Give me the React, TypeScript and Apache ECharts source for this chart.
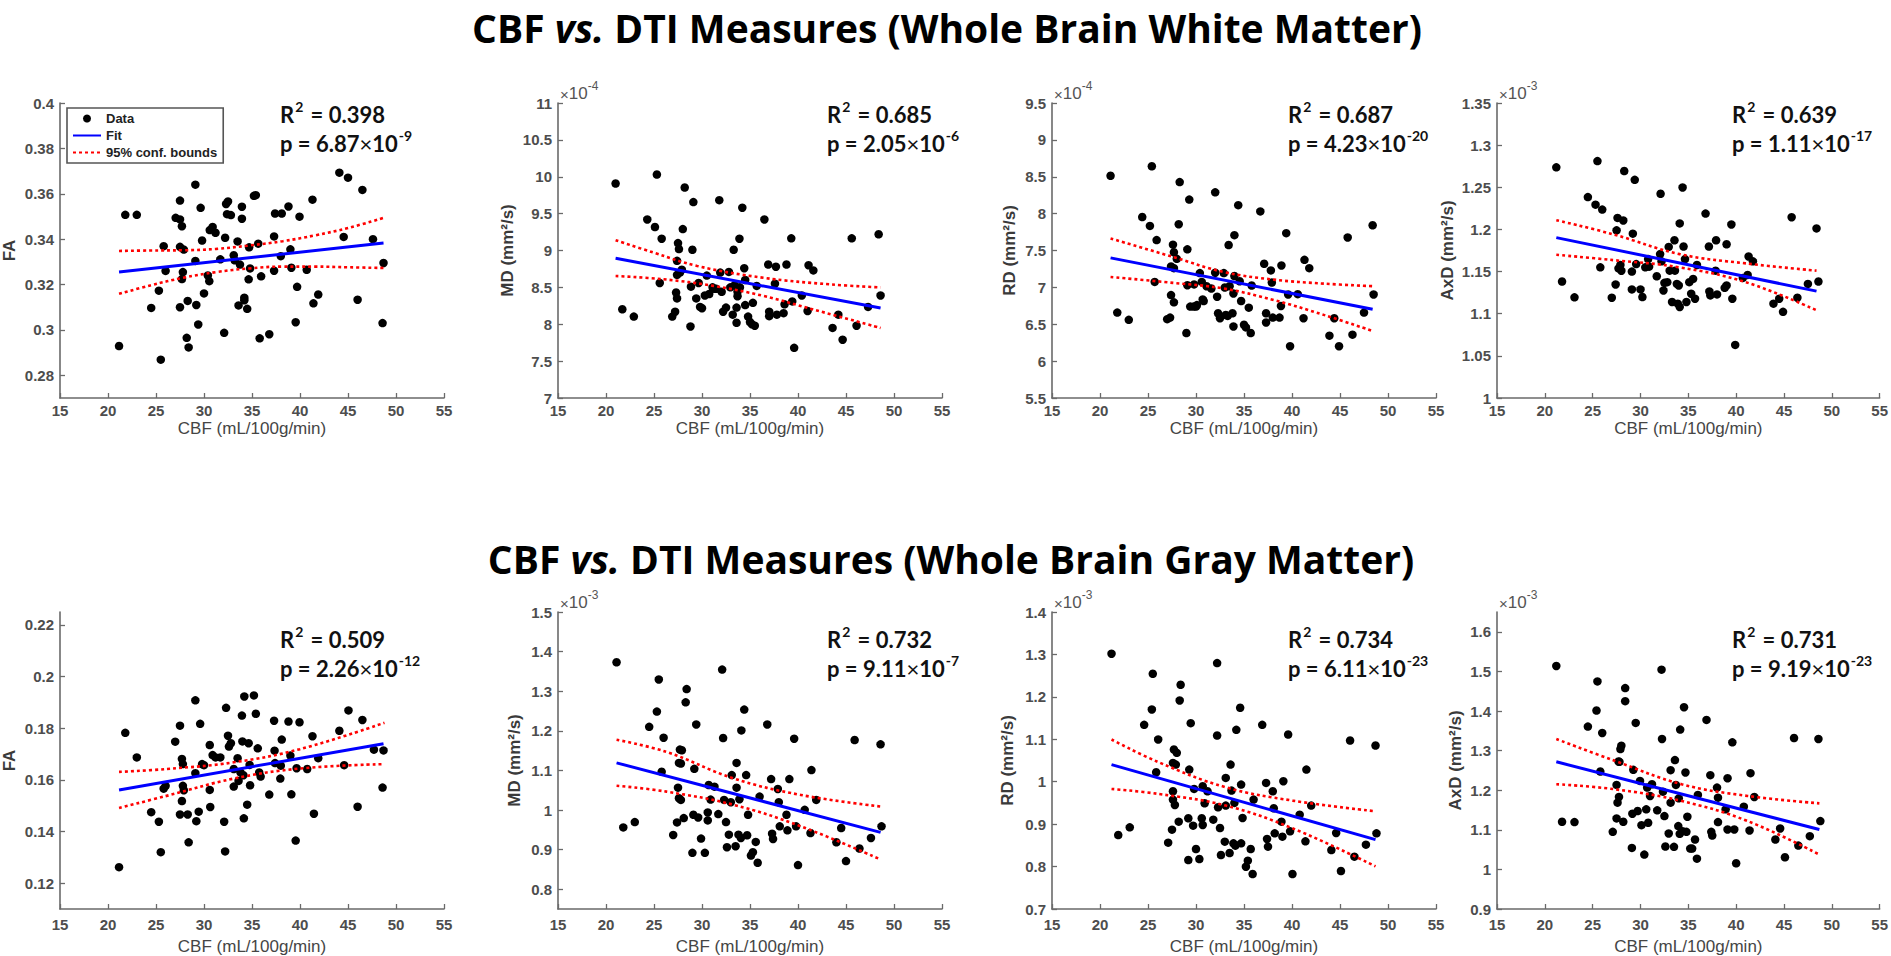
import React, { useEffect, useRef } from 'react';
import * as echarts from 'echarts';

// ---------------- DATA ----------------
const cbfRange = [15, 55];
const cbfInterval = 5;

// Whole brain white matter
const wmFaPoints = [
  [21.15, 0.2929], [21.8, 0.3507], [23.0, 0.3507], [24.5, 0.3097], [25.3, 0.3173], [25.5, 0.2869], [25.8, 0.3369], [26.0, 0.326],
  [27.05, 0.3494], [27.5, 0.357], [27.5, 0.3487], [27.7, 0.3457], [27.5, 0.3366], [27.9, 0.3354], [27.8, 0.3255], [27.7, 0.3224],
  [27.5, 0.31], [28.2, 0.2965], [28.4, 0.2923], [28.3, 0.3128], [29.1, 0.364], [29.1, 0.3304], [29.2, 0.311], [29.4, 0.3024],
  [29.65, 0.3538], [29.8, 0.3394], [30.0, 0.3161], [30.4, 0.324], [30.55, 0.3215], [30.6, 0.344], [30.9, 0.3454], [31.2, 0.3428],
  [31.7, 0.3311], [32.1, 0.2987], [32.2, 0.3406], [32.3, 0.3555], [32.5, 0.3566], [32.4, 0.351], [32.8, 0.3506], [33.1, 0.3329],
  [33.2, 0.3307], [33.5, 0.339], [33.6, 0.3108], [33.75, 0.3288], [33.95, 0.3543], [33.95, 0.349], [34.2, 0.3142], [34.2, 0.3131],
  [34.5, 0.3093], [34.65, 0.3223], [34.7, 0.3364], [34.8, 0.3271], [35.2, 0.3591], [35.4, 0.3594], [35.65, 0.338], [35.8, 0.2963],
  [35.95, 0.3236], [36.8, 0.2981], [37.3, 0.3261], [37.3, 0.3412], [37.4, 0.3513], [38.1, 0.3513], [38.0, 0.3325], [38.8, 0.3544],
  [39.0, 0.3355], [39.1, 0.3274], [39.55, 0.3034], [39.7, 0.319], [39.95, 0.3499], [40.7, 0.3265], [41.3, 0.3574], [41.4, 0.3117],
  [41.9, 0.3156], [44.1, 0.3693], [45.0, 0.3671], [44.55, 0.341], [46.0, 0.3133], [46.5, 0.3617], [47.6, 0.34], [48.6, 0.303],
  [48.7, 0.3295]
];
const wmFaFit = [[21.15, 0.3255], [48.7, 0.3383]];
const wmFaUpper = [[21.15, 0.3348], [24.4, 0.335], [27.85, 0.3351], [31.3, 0.3357], [34.7, 0.3372], [38.2, 0.3391], [41.6, 0.3417], [45.1, 0.345], [48.7, 0.3494]];
const wmFaLower = [[21.15, 0.3159], [24.4, 0.3196], [27.85, 0.323], [31.3, 0.3255], [34.7, 0.3271], [38.2, 0.3279], [41.6, 0.3279], [45.1, 0.3276], [48.7, 0.3273]];
const wmFaTicks = [0.28, 0.3, 0.32, 0.34, 0.36, 0.38, 0.4];

const wmMdPoints = [
  [21.0, 9.908], [21.7, 8.203], [22.9, 8.104], [24.3, 9.421], [25.1, 9.318], [25.3, 10.03], [25.6, 8.56], [25.8, 9.16],
  [26.9, 8.104], [27.2, 8.17], [27.3, 8.43], [27.4, 8.35], [27.4, 8.86], [27.5, 9.1], [27.6, 9.02], [27.4, 8.67],
  [27.7, 8.7], [27.9, 8.74], [28.0, 9.29], [28.2, 9.854], [28.8, 7.97], [28.85, 8.51], [29.0, 9.01], [29.1, 9.656],
  [29.4, 8.35], [29.65, 8.56], [29.8, 8.235], [30.0, 8.217], [30.3, 8.39], [30.5, 8.66], [30.75, 8.41], [31.1, 8.5],
  [31.3, 8.48], [31.5, 8.48], [31.8, 9.683], [31.9, 8.7], [32.05, 8.44], [32.2, 8.17], [32.5, 8.226], [32.8, 8.71],
  [32.95, 8.5], [33.2, 8.13], [33.3, 9.01], [33.4, 8.53], [33.6, 8.226], [33.6, 8.02], [33.7, 8.38], [33.7, 8.44],
  [33.9, 9.16], [33.95, 8.5], [34.2, 9.58], [34.4, 8.76], [34.5, 8.6], [34.5, 8.26], [34.8, 8.104], [35.0, 8.03],
  [35.2, 8.0], [35.3, 8.29], [35.5, 7.98], [35.7, 8.52], [36.5, 9.421], [36.9, 8.81], [37.0, 8.17], [37.0, 8.11],
  [37.6, 8.55], [37.7, 8.78], [37.8, 8.13], [38.5, 8.15], [38.6, 8.27], [38.8, 8.81], [39.3, 9.165], [39.4, 8.31],
  [39.6, 7.68], [40.4, 8.39], [41.0, 8.18], [41.1, 8.8], [41.6, 8.73], [43.6, 7.95], [44.2, 8.13], [44.65, 7.79],
  [45.6, 9.165], [46.1, 7.98], [47.3, 8.235], [48.4, 9.22], [48.6, 8.39]
];
const wmMdFit = [[21.0, 8.894], [48.6, 8.22]];
const wmMdUpper = [[21.0, 9.14], [25.0, 8.97], [29.5, 8.79], [36.4, 8.63], [43.4, 8.54], [48.6, 8.5]];
const wmMdLower = [[21.0, 8.654], [26.0, 8.61], [31.2, 8.52], [36.4, 8.384], [41.6, 8.2], [48.6, 7.95]];
const wmMdTicks = [7, 7.5, 8, 8.5, 9, 9.5, 10, 10.5, 11];

const wmRdPoints = [
  [21.1, 8.513], [21.8, 6.658], [23.0, 6.56], [24.4, 7.954], [25.2, 7.833], [25.4, 8.642], [25.7, 7.074], [25.9, 7.641],
  [27.0, 6.569], [27.3, 6.59], [27.4, 6.895], [27.7, 6.797], [27.6, 7.579], [27.7, 7.476], [27.4, 7.284], [27.7, 7.261],
  [28.0, 7.387], [28.2, 7.856], [28.3, 8.428], [29.0, 6.381], [29.1, 7.516], [29.1, 7.029], [29.3, 8.19], [29.4, 6.739],
  [29.75, 6.739], [30.0, 6.739], [30.1, 6.76], [29.8, 7.04], [30.4, 7.194], [30.6, 7.074], [30.7, 6.837], [30.8, 6.815],
  [31.1, 7.016], [31.6, 6.984], [32.0, 8.289], [32.0, 7.199], [32.2, 6.873], [32.3, 6.649], [32.5, 6.582], [32.9, 7.194],
  [33.0, 6.998], [33.1, 6.627], [33.3, 6.613], [33.4, 7.574], [33.5, 7.016], [33.8, 6.649], [33.9, 6.47], [33.9, 6.917],
  [34.0, 7.154], [34.0, 7.708], [34.4, 8.115], [34.55, 7.083], [34.7, 6.815], [35.0, 6.493], [35.2, 6.457], [35.5, 6.725],
  [35.7, 6.381], [35.8, 7.025], [36.7, 8.03], [37.1, 7.32], [37.3, 6.649], [37.3, 6.524], [37.8, 7.23], [37.9, 7.065],
  [38.0, 6.59], [38.7, 6.59], [38.85, 6.748], [38.9, 7.297], [39.4, 7.735], [39.6, 6.904], [39.8, 6.202], [40.6, 6.908],
  [41.2, 6.582], [41.3, 7.373], [41.8, 7.261], [43.9, 6.345], [44.4, 6.582], [44.9, 6.202], [45.8, 7.677], [46.3, 6.359],
  [47.5, 6.658], [48.4, 7.842], [48.5, 6.904]
];
const wmRdFit = [[21.1, 7.4], [48.4, 6.703]];
const wmRdUpper = [[21.1, 7.664], [27.7, 7.409], [32.9, 7.208], [38.1, 7.105], [43.3, 7.051], [48.4, 7.016]];
const wmRdLower = [[21.1, 7.141], [27.7, 7.06], [32.9, 6.984], [38.1, 6.828], [43.3, 6.627], [48.4, 6.408]];
const wmRdTicks = [5.5, 6, 6.5, 7, 7.5, 8, 8.5, 9, 9.5];

const wmAxdPoints = [
  [21.2, 1.2737], [21.8, 1.1382], [23.1, 1.1194], [24.5, 1.2384], [25.3, 1.2294], [25.5, 1.2811], [25.8, 1.155], [26.0, 1.2235],
  [27.0, 1.119], [27.4, 1.1347], [27.5, 1.1989], [27.6, 1.2137], [27.7, 1.1538], [28.0, 1.151], [27.9, 1.1578], [28.2, 1.2106],
  [28.3, 1.2693], [29.1, 1.1288], [29.2, 1.195], [29.1, 1.15], [29.4, 1.2588], [29.55, 1.1589], [30.0, 1.1288], [30.2, 1.1198],
  [30.5, 1.155], [30.8, 1.1648], [30.9, 1.1558], [31.7, 1.1444], [32.1, 1.2423], [32.05, 1.1707], [32.2, 1.1621], [32.4, 1.1276],
  [32.5, 1.1366], [32.8, 1.1374], [32.95, 1.1793], [33.05, 1.1511], [33.3, 1.1139], [33.6, 1.1511], [33.55, 1.1871], [33.8, 1.1354],
  [33.9, 1.1119], [34.0, 1.1335], [34.1, 1.2071], [34.1, 1.108], [34.4, 1.2498], [34.5, 1.1797], [34.65, 1.1648], [34.8, 1.1139],
  [35.1, 1.1374], [35.3, 1.1237], [35.5, 1.1413], [35.7, 1.1178], [35.9, 1.1578], [36.8, 1.2188], [37.15, 1.1797], [37.2, 1.1264],
  [37.3, 1.1217], [37.9, 1.1871], [37.85, 1.1511], [38.0, 1.1229], [38.8, 1.1307], [39.0, 1.1824], [39.0, 1.1335], [39.5, 1.2059],
  [39.6, 1.1178], [39.9, 1.063], [40.7, 1.1425], [41.2, 1.146], [41.3, 1.1679], [41.75, 1.1621], [43.9, 1.1119], [44.5, 1.1178],
  [44.9, 1.1022], [45.8, 1.2145], [46.4, 1.119], [47.5, 1.1354], [48.4, 1.2012], [48.6, 1.1382]
];
const wmAxdFit = [[21.2, 1.1903], [48.4, 1.1268]];
const wmAxdUpper = [[21.2, 1.211], [27.15, 1.1942], [34.1, 1.1707], [41.0, 1.1597], [48.4, 1.1511]];
const wmAxdLower = [[21.2, 1.1699], [27.15, 1.1636], [34.1, 1.155], [41.0, 1.1374], [48.4, 1.1041]];
const wmAxdTicks = [1, 1.05, 1.1, 1.15, 1.2, 1.25, 1.3, 1.35];

// Whole brain gray matter
const gmFaPoints = [
  [21.15, 0.1262], [21.8, 0.1782], [23.0, 0.1687], [24.5, 0.1475], [25.3, 0.1438], [25.5, 0.132], [25.8, 0.1566], [26.0, 0.1577],
  [27.0, 0.1748], [27.5, 0.181], [27.5, 0.1466], [27.7, 0.1518], [27.7, 0.1681], [27.8, 0.1661], [27.8, 0.1577], [27.9, 0.156],
  [28.3, 0.1466], [28.4, 0.1358], [29.1, 0.1908], [29.1, 0.1626], [29.2, 0.144], [29.45, 0.1477], [29.6, 0.1817], [29.8, 0.1661],
  [30.0, 0.1657], [30.6, 0.1735], [30.6, 0.1561], [30.65, 0.1495], [30.9, 0.1696], [31.2, 0.1687], [31.7, 0.1687], [32.1, 0.1438],
  [32.2, 0.1323], [32.3, 0.1879], [32.5, 0.1771], [32.6, 0.1729], [32.8, 0.1742], [33.1, 0.1574], [33.1, 0.1642], [33.5, 0.1684],
  [33.6, 0.1596], [33.8, 0.1629], [33.95, 0.1849], [34.0, 0.1749], [34.1, 0.1618], [34.15, 0.1451], [34.2, 0.1923], [34.5, 0.1504],
  [34.65, 0.1742], [34.75, 0.1658], [34.8, 0.1579], [35.2, 0.1927], [35.4, 0.1856], [35.6, 0.1722], [35.75, 0.1629], [35.9, 0.1613],
  [36.8, 0.1543], [37.3, 0.1829], [37.35, 0.1713], [37.4, 0.1665], [37.95, 0.1605], [38.0, 0.1655], [38.1, 0.1756], [38.8, 0.1826],
  [39.0, 0.1694], [39.1, 0.1544], [39.55, 0.1365], [39.65, 0.1645], [39.95, 0.1823], [40.75, 0.1642], [41.3, 0.1769], [41.45, 0.1469],
  [41.9, 0.1684], [44.1, 0.179], [44.6, 0.1657], [45.05, 0.1869], [46.0, 0.1496], [46.5, 0.1832], [47.7, 0.1717], [48.6, 0.157],
  [48.7, 0.1714]
];
const gmFaFit = [[21.15, 0.1561], [48.7, 0.174]];
const gmFaUpper = [[21.15, 0.1631], [26.1, 0.1642], [33.1, 0.1668], [40.0, 0.1719], [48.8, 0.1821]];
const gmFaLower = [[21.15, 0.1491], [26.1, 0.1538], [33.1, 0.1605], [40.0, 0.1644], [48.8, 0.1661]];
const gmFaTicks = [0.12, 0.14, 0.16, 0.18, 0.2, 0.22];

const gmMdPoints = [
  [21.1, 1.373], [21.8, 0.956], [23.0, 0.9695], [24.5, 1.21], [25.3, 1.2485], [25.5, 1.3296], [25.8, 1.0965], [26.0, 1.1825],
  [27.0, 0.9369], [27.4, 0.9687], [27.5, 1.0564], [27.6, 1.0297], [27.8, 1.0255], [27.6, 1.119], [27.8, 1.1174], [27.7, 1.1525],
  [27.9, 1.1508], [28.1, 0.9795], [28.3, 1.2719], [28.4, 1.3053], [29.0, 0.8918], [29.1, 0.9879], [29.2, 1.104], [29.4, 1.216],
  [29.6, 0.9812], [29.9, 0.9278], [30.3, 0.8918], [30.6, 0.9937], [30.6, 0.9737], [30.7, 1.0631], [30.9, 1.0263], [31.3, 1.0589],
  [31.7, 0.9896], [32.1, 1.3546], [32.2, 1.1817], [32.3, 1.0255], [32.5, 0.9695], [32.6, 0.906], [32.8, 0.9378], [33.0, 1.0196],
  [33.1, 1.0881], [33.5, 0.9085], [33.6, 1.119], [33.6, 1.0564], [33.8, 0.9378], [33.9, 1.0272], [34.05, 0.9294], [34.1, 1.2009],
  [34.4, 1.2536], [34.6, 1.0881], [34.7, 0.9361], [34.8, 0.9879], [35.1, 0.8851], [35.3, 0.8935], [35.6, 0.9194], [35.8, 0.8667],
  [36.0, 1.0338], [36.8, 1.216], [37.2, 1.0781], [37.3, 0.9403], [37.4, 0.9269], [37.9, 1.0531], [38.0, 1.0196], [38.1, 0.9587],
  [38.8, 0.9879], [38.9, 0.9486], [39.1, 1.0781], [39.6, 1.18], [39.8, 0.9587], [40.0, 0.8609], [40.7, 1.0004], [41.3, 0.9419],
  [41.4, 1.1007], [41.9, 1.0255], [44.0, 0.9185], [44.5, 0.9545], [45.0, 0.8709], [45.9, 1.1767], [46.4, 0.9027], [47.6, 0.9294],
  [48.6, 1.1658], [48.7, 0.9587]
];
const gmMdFit = [[21.1, 1.119], [48.6, 0.9436]];
const gmMdUpper = [[21.1, 1.1775], [26.3, 1.1466], [33.3, 1.0798], [40.3, 1.038], [48.6, 1.0088]];
const gmMdLower = [[21.1, 1.0614], [26.3, 1.0464], [33.3, 1.013], [40.3, 0.9587], [48.6, 0.8751]];
const gmMdTicks = [0.8, 0.9, 1, 1.1, 1.2, 1.3, 1.4, 1.5];

const gmRdPoints = [
  [21.2, 1.3017], [21.9, 0.8744], [23.1, 0.8925], [24.6, 1.1341], [25.4, 1.1703], [25.5, 1.2544], [25.85, 1.0223], [26.06, 1.0995],
  [27.1, 0.8563], [27.5, 0.887], [27.6, 0.9775], [27.6, 0.9578], [27.8, 0.9452], [27.6, 1.0444], [27.9, 1.0404], [27.7, 1.0758],
  [28.0, 1.068], [28.2, 0.9059], [28.4, 1.2285], [28.3, 1.1915], [29.2, 0.8154], [29.3, 1.0286], [29.2, 0.9138], [29.45, 1.138],
  [29.7, 0.8965], [29.8, 0.983], [30.0, 0.8414], [30.35, 0.8178], [30.6, 0.9138], [30.7, 0.898], [30.7, 0.9893], [30.9, 0.9492],
  [31.2, 0.9775], [31.8, 0.9106], [32.2, 1.2796], [32.2, 1.1089], [32.3, 0.9397], [32.5, 0.8909], [32.6, 0.8272], [33.0, 0.8587],
  [33.1, 1.009], [33.1, 0.9437], [33.5, 0.8319], [33.6, 1.0404], [33.7, 0.9791], [33.9, 0.8548], [34.0, 0.95], [34.1, 0.8493],
  [34.2, 1.1223], [34.6, 1.1742], [34.7, 0.9932], [34.7, 0.8548], [34.85, 0.9146], [35.2, 0.7997], [35.4, 0.8139], [35.7, 0.8414],
  [35.9, 0.7824], [36.0, 0.9578], [36.9, 1.1341], [37.3, 0.9972], [37.4, 0.865], [37.5, 0.8469], [38.0, 0.9775], [38.1, 0.9374],
  [38.2, 0.8784], [38.9, 0.9059], [39.0, 0.8705], [39.1, 1.0011], [39.6, 1.1112], [39.8, 0.8831], [40.05, 0.7824], [40.8, 0.9224],
  [41.4, 0.8595], [41.5, 1.0286], [42.0, 0.9437], [44.1, 0.839], [44.6, 0.8792], [45.1, 0.7895], [46.05, 1.0971], [46.5, 0.8233],
  [47.7, 0.8516], [48.7, 1.0853], [48.8, 0.8784]
];
const gmRdFit = [[21.2, 1.0404], [48.7, 0.8634]];
const gmRdUpper = [[21.2, 1.0995], [26.1, 1.046], [33.1, 0.9869], [40.05, 0.9555], [48.7, 0.9303]];
const gmRdLower = [[21.2, 0.983], [26.1, 0.9712], [33.1, 0.9437], [40.05, 0.8902], [48.7, 0.8005]];
const gmRdTicks = [0.7, 0.8, 0.9, 1, 1.1, 1.2, 1.3, 1.4];

const gmAxdPoints = [
  [21.2, 1.5137], [21.8, 1.1203], [23.1, 1.1195], [24.5, 1.3606], [25.4, 1.4012], [25.5, 1.4748], [26.0, 1.3445], [25.8, 1.2472],
  [27.1, 1.0949], [27.5, 1.1288], [27.5, 1.2134], [27.6, 1.1685], [27.75, 1.1829], [27.7, 1.2726], [27.9, 1.3039], [28.0, 1.3124],
  [27.8, 1.2717], [28.2, 1.1203], [28.4, 1.4249], [28.4, 1.4579], [29.1, 1.0543], [29.15, 1.1406], [29.25, 1.2514], [29.5, 1.3699],
  [29.7, 1.1474], [29.95, 1.2235], [30.1, 1.1118], [30.4, 1.0374], [30.6, 1.1516], [30.8, 1.1178], [30.7, 1.2066], [31.0, 1.1854],
  [31.2, 1.2151], [31.75, 1.1491], [32.2, 1.5044], [32.25, 1.3293], [32.35, 1.1964], [32.5, 1.1347], [32.6, 1.0577], [32.95, 1.0907],
  [33.15, 1.2506], [33.15, 1.1685], [33.5, 1.0569], [33.6, 1.276], [33.7, 1.2134], [33.95, 1.1093], [34.0, 1.1795], [34.1, 1.0898],
  [34.15, 1.353], [34.4, 1.0966], [34.55, 1.4096], [34.7, 1.2447], [34.8, 1.0949], [34.9, 1.133], [35.2, 1.0526], [35.4, 1.0526],
  [35.7, 1.0755], [35.9, 1.0272], [36.0, 1.188], [36.9, 1.3775], [37.3, 1.2379], [37.4, 1.0949], [37.5, 1.0856], [38.0, 1.2066],
  [38.1, 1.1812], [38.1, 1.1195], [38.9, 1.1516], [39.1, 1.2303], [39.1, 1.1008], [39.6, 1.3208], [39.8, 1.1008], [40.0, 1.0154],
  [40.8, 1.1584], [41.4, 1.0983], [41.5, 1.243], [41.9, 1.1829], [44.1, 1.0755], [44.6, 1.1034], [45.1, 1.0306], [46.05, 1.3318],
  [46.5, 1.0602], [47.7, 1.0839], [48.6, 1.3293], [48.8, 1.122]
];
const gmAxdFit = [[21.2, 1.2717], [48.7, 1.1008]];
const gmAxdUpper = [[21.2, 1.3293], [27.3, 1.2743], [34.3, 1.2151], [41.2, 1.1855], [48.7, 1.1668]];
const gmAxdLower = [[21.2, 1.2151], [27.3, 1.2024], [34.3, 1.1728], [41.2, 1.122], [48.7, 1.0374]];
const gmAxdTicks = [0.9, 1, 1.1, 1.2, 1.3, 1.4, 1.5, 1.6];

const yRanges = [[0.27, 0.4], [7, 11], [5.5, 9.5], [1, 1.35], [0.11, 0.225], [0.75, 1.5], [0.7, 1.4], [0.9, 1.65]];
const yNames = ['FA', 'MD (mm²/s)', 'RD (mm²/s)', 'AxD (mm²/s)', 'FA', 'MD (mm²/s)', 'RD (mm²/s)', 'AxD (mm²/s)'];
const r2Values = ['0.398', '0.685', '0.687', '0.639', '0.509', '0.732', '0.734', '0.731'];
const pMantissas = ['6.87', '2.05', '4.23', '1.11', '2.26', '9.11', '6.11', '9.19'];
const pExponents = ['-9', '-6', '-20', '-17', '-12', '-7', '-23', '-23'];
const yExponents = [null, '-4', '-4', '-3', null, '-3', '-3', '-3'];
const rowTitles = ['White Matter', 'Gray Matter'];

// ---------------- LAYOUT ----------------
const colLeft = [60, 558, 1052, 1497];
const gridW = 384;
const rowTop = [103, 612];
const rowH = [295, 297];
const statX = [280, 827, 1288, 1732];
const statY = [[112, 141], [637, 666]];
const yNameGaps = [42, 42, 34, 41, 42, 35, 36, 33];

const FONT_AX = '"Liberation Sans", Arial, sans-serif';
const FONT_TXT = 'Lato, "Open Sans", sans-serif';
const FONT_TITLE = '"Open Sans", Lato, sans-serif';

const panels = [
  { pts: wmFaPoints, fit: wmFaFit, up: wmFaUpper, lo: wmFaLower, ticks: wmFaTicks },
  { pts: wmMdPoints, fit: wmMdFit, up: wmMdUpper, lo: wmMdLower, ticks: wmMdTicks },
  { pts: wmRdPoints, fit: wmRdFit, up: wmRdUpper, lo: wmRdLower, ticks: wmRdTicks },
  { pts: wmAxdPoints, fit: wmAxdFit, up: wmAxdUpper, lo: wmAxdLower, ticks: wmAxdTicks },
  { pts: gmFaPoints, fit: gmFaFit, up: gmFaUpper, lo: gmFaLower, ticks: gmFaTicks },
  { pts: gmMdPoints, fit: gmMdFit, up: gmMdUpper, lo: gmMdLower, ticks: gmMdTicks },
  { pts: gmRdPoints, fit: gmRdFit, up: gmRdUpper, lo: gmRdLower, ticks: gmRdTicks },
  { pts: gmAxdPoints, fit: gmAxdFit, up: gmAxdUpper, lo: gmAxdLower, ticks: gmAxdTicks },
];

const fmt = (v: number) => String(parseFloat(v.toFixed(4)));
const AXIS_COLOR = '#6a6a6a';
const LABEL_COLOR = '#4d4d4d';

function buildOption() {
  const grid: any[] = [];
  const xAxis: any[] = [];
  const yAxis: any[] = [];
  const series: any[] = [];
  const graphic: any[] = [];

  panels.forEach((p, i) => {
    const row = Math.floor(i / 4);
    const col = i % 4;
    grid.push({ left: colLeft[col], top: rowTop[row], width: gridW, height: rowH[row], containLabel: false });
    xAxis.push({
      type: 'value', gridIndex: i, min: cbfRange[0], max: cbfRange[1], interval: cbfInterval,
      name: 'CBF (mL/100g/min)', nameLocation: 'middle', nameGap: row === 0 ? 22 : 29, nameMoveOverlap: false,
      nameTextStyle: { fontFamily: FONT_AX, fontSize: 17, color: '#454545' },
      axisLine: { show: true, lineStyle: { color: AXIS_COLOR, width: 1.6 } },
      axisTick: { show: true, inside: true, length: 5, lineStyle: { color: AXIS_COLOR, width: 1.3 } },
      axisLabel: { fontFamily: FONT_AX, fontSize: 15, fontWeight: 'bold', color: LABEL_COLOR, margin: row === 0 ? 5 : 8, formatter: fmt },
      splitLine: { show: false },
    });
    yAxis.push({
      type: 'value', gridIndex: i, min: yRanges[i][0], max: yRanges[i][1],
      name: yNames[i], nameLocation: 'middle', nameGap: yNameGaps[i], nameRotate: 90, nameMoveOverlap: false,
      nameTextStyle: { fontFamily: FONT_AX, fontSize: 17, fontWeight: 'bold', color: '#3a3a3a' },
      axisLine: { show: true, lineStyle: { color: AXIS_COLOR, width: 1.6 } },
      axisTick: { show: true, inside: true, length: 5, customValues: p.ticks, lineStyle: { color: AXIS_COLOR, width: 1.3 } },
      axisLabel: { fontFamily: FONT_AX, fontSize: 15, fontWeight: 'bold', color: LABEL_COLOR, margin: 6, customValues: p.ticks, formatter: fmt },
      splitLine: { show: false },
    });
    series.push({
      name: 'Data', type: 'scatter', xAxisIndex: i, yAxisIndex: i, data: p.pts,
      symbol: 'circle', symbolSize: 8.5, itemStyle: { color: '#000', opacity: 1 }, z: 2,
    });
    series.push({
      name: 'Fit', type: 'line', xAxisIndex: i, yAxisIndex: i, data: p.fit,
      symbol: 'none', showSymbol: false, lineStyle: { color: '#0000ff', width: 3 }, itemStyle: { color: '#0000ff' }, z: 4,
    });
    [p.up, p.lo].forEach((b) => {
      series.push({
        name: '95% conf. bounds', type: 'line', xAxisIndex: i, yAxisIndex: i, data: b, smooth: 0.4,
        symbol: 'none', showSymbol: false, lineStyle: { color: '#ff0000', width: 2.6, type: [3, 3] }, itemStyle: { color: '#ff0000' }, z: 3,
      });
    });

    // statistics text
    graphic.push({
      type: 'text', x: statX[col], y: statY[row][0],
      style: {
        text: '{b|R}{s|2}{b| = ' + r2Values[i] + '}',
        textVerticalAlign: 'middle', textAlign: 'left',
        rich: {
          b: { fontFamily: FONT_TXT, fontSize: 22, fontWeight: 'bold', fill: '#111', lineHeight: 26, verticalAlign: 'bottom' },
          s: { fontFamily: FONT_TXT, fontSize: 14, fontWeight: 'bold', fill: '#111', lineHeight: 26, verticalAlign: 'top', padding: [0, 2, 0, 1] },
        },
      },
    });
    graphic.push({
      type: 'text', x: statX[col], y: statY[row][1],
      style: {
        text: '{b|p = ' + pMantissas[i] + '}{m|×}{b|10}{s|' + pExponents[i] + '}',
        textVerticalAlign: 'middle', textAlign: 'left',
        rich: {
          b: { fontFamily: FONT_TXT, fontSize: 22, fontWeight: 'bold', fill: '#111', lineHeight: 26, verticalAlign: 'bottom' },
          m: { fontFamily: FONT_TXT, fontSize: 22, fontWeight: 'normal', fill: '#111', lineHeight: 26, verticalAlign: 'bottom' },
          s: { fontFamily: FONT_TXT, fontSize: 14, fontWeight: 'bold', fill: '#111', lineHeight: 26, verticalAlign: 'top', padding: [0, 0, 0, 1] },
        },
      },
    });
    if (yExponents[i]) {
      graphic.push({
        type: 'text', x: colLeft[col] + 2, y: rowTop[row] - 1,
        style: {
          text: '{m|×}{b|10}{s|' + yExponents[i] + '}',
          textVerticalAlign: 'bottom', textAlign: 'left',
          rich: {
            m: { fontFamily: FONT_AX, fontSize: 15, fill: '#555', lineHeight: 22, verticalAlign: 'bottom' },
            b: { fontFamily: FONT_AX, fontSize: 17, fill: '#555', lineHeight: 22, verticalAlign: 'bottom' },
            s: { fontFamily: FONT_AX, fontSize: 12, fill: '#555', lineHeight: 22, verticalAlign: 'top' },
          },
        },
      });
    }
  });

  // row titles
  const titleY = [27, 558];
  const titleX = [947, 951];
  rowTitles.forEach((t, r) => {
    graphic.push({
      type: 'text', x: titleX[r], y: titleY[r],
      style: {
        text: '{b|CBF }{i|vs.}{b| DTI Measures (Whole Brain ' + t + ')}',
        textAlign: 'center', textVerticalAlign: 'middle',
        rich: {
          b: { fontFamily: FONT_TITLE, fontSize: 39, fontWeight: 'bold', fill: '#000', lineHeight: 42 },
          i: { fontFamily: FONT_TITLE, fontSize: 39, fontWeight: 'bold', fontStyle: 'italic', fill: '#000', lineHeight: 42 },
        },
      },
    });
  });

  return {
    animation: false,
    backgroundColor: '#ffffff',
    grid, xAxis, yAxis, series, graphic,
    legend: {
      show: true, orient: 'vertical', left: 67, top: 108,
      data: [
        { name: 'Data', icon: 'circle' },
        { name: 'Fit', icon: 'inherit', itemStyle: { opacity: 0 } },
        { name: '95% conf. bounds', icon: 'inherit', itemStyle: { opacity: 0 } },
      ],
      itemWidth: 28, itemHeight: 8, itemGap: 4, padding: [4, 6, 4, 5],
      borderColor: '#555', borderWidth: 1.6, backgroundColor: '#fff',
      selectedMode: false,
      textStyle: { fontFamily: FONT_AX, fontSize: 13, fontWeight: 'bold', color: '#222' },
    },
  };
}

export default function App() {
  const ref = useRef<HTMLDivElement>(null);
  useEffect(() => {
    if (!ref.current) return;
    const chart = echarts.init(ref.current, undefined, { renderer: 'svg' });
    chart.setOption(buildOption() as any);
    return () => chart.dispose();
  }, []);
  return (
    <div
      ref={ref}
      style={{ position: 'absolute', left: 0, top: 0, width: 1891, height: 956, background: '#fff' }}
    />
  );
}
